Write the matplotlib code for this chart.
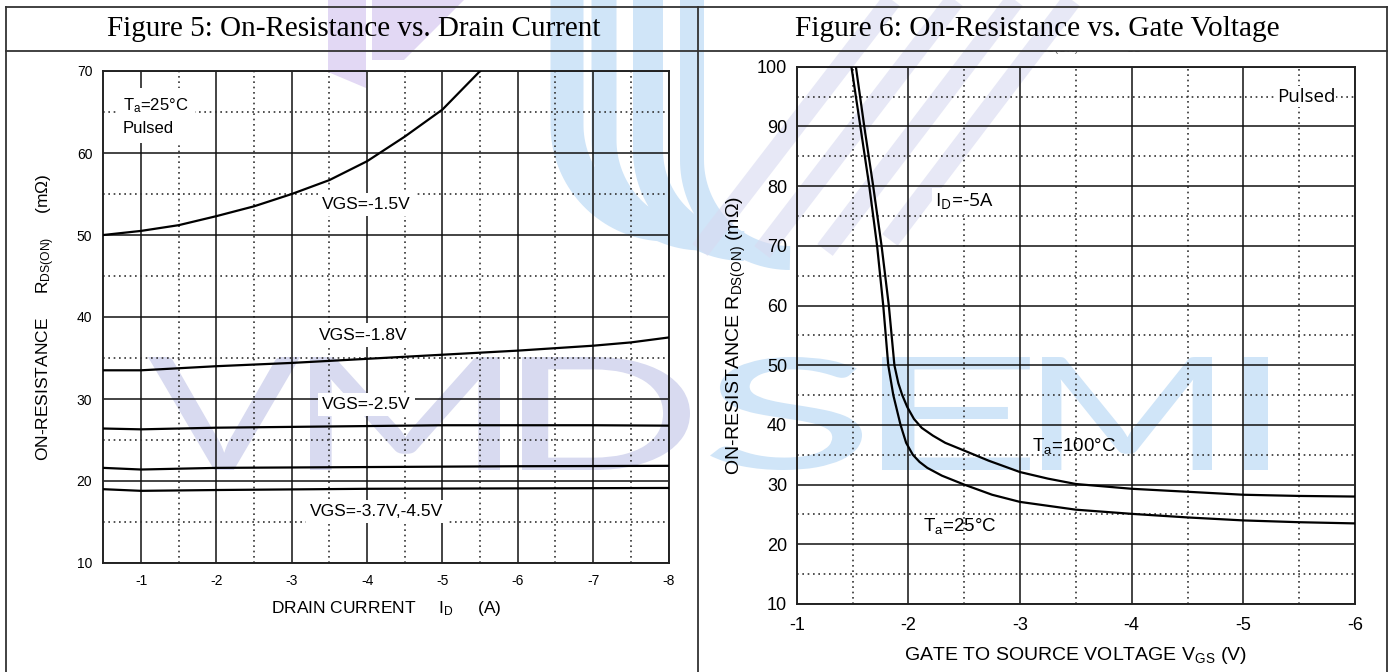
import numpy as np
import matplotlib
matplotlib.use("Agg")
import matplotlib.pyplot as plt
import matplotlib.transforms as mtransforms
from matplotlib.patches import Rectangle, PathPatch, Polygon
from matplotlib.textpath import TextPath
from matplotlib.font_manager import FontProperties

plt.rcParams['font.family'] = ['Liberation Sans', 'DejaVu Sans']
plt.rcParams['mathtext.fontset'] = 'custom'
plt.rcParams['mathtext.rm'] = 'Liberation Sans'
plt.rcParams['mathtext.it'] = 'Liberation Sans:italic'
plt.rcParams['mathtext.bf'] = 'Liberation Sans:bold'
plt.rcParams['axes.unicode_minus'] = False

# Figure 5: on-resistance vs drain current (mOhm vs A)
vgs15_id = [-0.5, -1, -1.5, -2, -2.5, -3, -3.5, -4, -4.5, -5, -5.5]
vgs15_r = [50.0, 50.5, 51.2, 52.3, 53.5, 55.0, 56.7, 59.0, 62.0, 65.3, 70.0]
vgs18_id = [-0.5, -1, -2, -3, -4, -5, -6, -7, -7.5, -8]
vgs18_r = [33.5, 33.5, 34.0, 34.4, 34.9, 35.4, 35.9, 36.5, 36.9, 37.5]
vgs25_id = [-0.5, -1, -2, -3, -4, -5, -6, -7, -8]
vgs25_r = [26.4, 26.3, 26.5, 26.6, 26.7, 26.8, 26.8, 26.8, 26.75]
vgs37_id = [-0.5, -1, -2, -4, -6, -8]
vgs37_r = [21.6, 21.4, 21.6, 21.7, 21.8, 21.85]
vgs45_id = [-0.5, -1, -2, -4, -6, -8]
vgs45_r = [19.0, 18.8, 18.9, 19.05, 19.1, 19.15]

# Figure 6: on-resistance vs gate voltage, ID = -5A
t25_vgs = [-1.49, -1.57, -1.65, -1.72, -1.775, -1.82, -1.865, -1.93, -1.98, -2.04, -2.1,
           -2.17, -2.3, -2.5, -2.75, -3.0, -3.5, -4.0, -4.5, -5.0, -5.5, -6.0]
t25_r = [100, 90, 80, 70, 60, 50, 45, 40, 37, 35, 33.8,
         32.8, 31.5, 30.0, 28.3, 27.1, 25.8, 25.1, 24.5, 24.0, 23.7, 23.5]
t100_vgs = [-1.53, -1.605, -1.685, -1.76, -1.825, -1.875, -1.91, -1.945, -1.99, -2.05, -2.12,
            -2.22, -2.33, -2.5, -2.72, -3.0, -3.25, -3.5, -4.0, -4.5, -5.0, -5.5, -6.0]
t100_r = [100, 90, 80, 70, 60, 50, 47, 45, 43, 41, 39.5,
          38.2, 37.0, 35.7, 34.0, 32.1, 31.0, 30.1, 29.3, 28.8, 28.3, 28.1, 28.0]

W, H = 1391, 672
fig = plt.figure(figsize=(W / 100, H / 100), dpi=100)

# background layer: table frame + watermark, in pixel coords
bg = fig.add_axes([0, 0, 1, 1])
bg.set_xlim(0, W)
bg.set_ylim(H, 0)
bg.axis('off')
bg.set_zorder(0)

blue = '#d0e5f8'
lav = '#d8daf0'
purple = '#e2d8f4'

# clipped caption remnant under header
bg.text(1059, 49.5, 'DS(ON)', fontsize=8, color='#666', ha='center', va='center', zorder=1)
bg.text(1134, 49.5, 'GS', fontsize=8, color='#666', ha='center', va='center', zorder=1)
bg.add_patch(Rectangle((1000, 20), 180, 31, fc='white', ec='none', zorder=1.5))

# logo remnants
for x, yt, r, w in [(567, 125, 100, 33), (604, 140, 98, 25), (648, 150, 96, 30), (692, 160, 98, 24)]:
    t = np.linspace(np.pi, np.pi / 2, 40)
    xs = np.concatenate([[x, x], x + r + r * np.cos(t)])
    ys = np.concatenate([[-10, yt], yt + r * np.sin(t)])
    bg.plot(xs, ys, color=blue, lw=w * 0.72, solid_capstyle='butt', zorder=2)
for x0, y0, x1, y1 in [(700, 250, 892, 0), (762, 252, 955, 0), (825, 250, 1015, 0), (890, 240, 1072, 0)]:
    bg.plot([x0, x1], [y0, y1], color=lav, lw=14, solid_capstyle='butt', zorder=2, alpha=0.6)
bg.add_patch(Polygon([(328, 0), (366, 0), (366, 88), (328, 72)], fc=purple, ec='none', zorder=2))
bg.add_patch(Polygon([(372, 0), (464, 0), (404, 60), (372, 60)], fc=purple, ec='none', zorder=2))

# watermark letters
wm_font = FontProperties(family=['Lato', 'DejaVu Sans'], weight='normal')
for ch, x0, x1, col in [('V', 148, 300, lav), ('M', 310, 500, lav), ('D', 522, 690, lav),
                        ('S', 710, 862, blue), ('E', 882, 1030, blue), ('M', 1042, 1212, blue),
                        ('I', 1244, 1268, blue)]:
    tp = TextPath((0, 0), ch, size=100, prop=wm_font)
    ext = tp.get_extents()
    y0, y1 = 357, 470
    tr = (mtransforms.Affine2D().translate(-ext.x0, -ext.y1)
          .scale((x1 - x0) / ext.width, -(y1 - y0) / ext.height).translate(x0, y0))
    bg.add_patch(PathPatch(tr.transform_path(tp), fc=col, ec='none', zorder=2))

# table frame
fc = '#333333'
bg.plot([6, 1387], [7, 7], color=fc, lw=1.3, zorder=4)
bg.plot([6, 1387], [51, 51], color=fc, lw=1.3, zorder=4)
for x in [6, 698, 1387]:
    bg.plot([x, x], [7, H + 5], color=fc, lw=1.3, zorder=4)

fig.text(354 / W, 1 - 29 / H, 'Figure 5: On-Resistance vs. Drain Current', family='Liberation Serif',
         fontsize=21, ha='center', va='center')
fig.text(1037 / W, 1 - 29 / H, 'Figure 6: On-Resistance vs. Gate Voltage', family='Liberation Serif',
         fontsize=21.2, ha='center', va='center')


def style(ax, xmaj, xmin, ymaj, ymin, size):
    ax.set_facecolor('none')
    ax.set_xticks(xmaj)
    ax.set_xticks(xmin, minor=True)
    ax.set_yticks(ymaj)
    ax.set_yticks(ymin, minor=True)
    ax.grid(which='major', color='#111111', lw=1.1, ls='-')
    ax.grid(which='minor', color='#333333', lw=1.2, ls=(0, (1, 2.2)))
    ax.tick_params(which='both', length=0, labelsize=size)
    for s in ax.spines.values():
        s.set_linewidth(1.4)
        s.set_color('#222222')


# ---- Figure 5 ----
ax1 = fig.add_axes([103.4 / W, 1 - 563 / H, 565.1 / W, 492 / H])
ax1.set_zorder(1)
style(ax1, range(-1, -9, -1), np.arange(-1.5, -8, -1), range(10, 71, 10), range(15, 70, 10), 10)
ax1.tick_params(axis='x', pad=8)
ax1.tick_params(axis='y', pad=8)
ax1.set_xlim(-0.5, -8)
ax1.set_ylim(10, 70)
for xs, ys in [(vgs15_id, vgs15_r), (vgs18_id, vgs18_r), (vgs25_id, vgs25_r),
               (vgs37_id, vgs37_r), (vgs45_id, vgs45_r)]:
    ax1.plot(xs, ys, color='black', lw=1.6, zorder=3)
box = dict(fc='white', ec='none', pad=3)
ax1.text(-3.99, 53.7, 'VGS=-1.5V', fontsize=12.5, ha='center', va='center', bbox=box, zorder=4)
ax1.text(-3.95, 37.8, 'VGS=-1.8V', fontsize=12.5, ha='center', va='center', bbox=box, zorder=4)
ax1.text(-3.99, 29.3, 'VGS=-2.5V', fontsize=12.5, ha='center', va='center', bbox=box, zorder=4)
ax1.text(-4.13, 16.3, 'VGS=-3.7V,-4.5V', fontsize=12.5, ha='center', va='center', bbox=box, zorder=4)
ax1.text(-0.76, 64.5, 'T$_\\mathregular{a}$=25°C\nPulsed', fontsize=12, ha='left', va='center',
         linespacing=1.5, bbox=dict(fc='white', ec='none', pad=5), zorder=4)
ax1.set_xlabel('DRAIN CURRENT     I$_\\mathregular{D}$     (A)', fontsize=12.5, labelpad=8)
ax1.set_ylabel('ON-RESISTANCE     R$_\\mathregular{DS(ON)}$     (m\u03a9)', fontsize=12.5, labelpad=14)

# ---- Figure 6 ----
ax2 = fig.add_axes([796.7 / W, 1 - 604 / H, 558.3 / W, 537.3 / H])
ax2.set_zorder(1)
style(ax2, range(-1, -7, -1), np.arange(-1.5, -6, -1), range(10, 101, 10), range(15, 100, 10), 13)
ax2.tick_params(axis='x', pad=9)
ax2.tick_params(axis='y', pad=7)
ax2.set_xlim(-1, -6)
ax2.set_ylim(10, 100)
ax2.plot(t25_vgs, t25_r, color='black', lw=1.6, zorder=3)
ax2.plot(t100_vgs, t100_r, color='black', lw=1.6, zorder=3)
ax2.text(-2.24, 77.5, 'I$_\\mathregular{D}$=-5A', family=['Open Sans', 'DejaVu Sans'], fontsize=14,
         ha='left', va='center', bbox=dict(fc='white', ec='none', pad=2), zorder=4)
ax2.text(-3.11, 36.5, 'T$_\\mathregular{a}$=100°C', fontsize=13.5, ha='left', va='center', zorder=4)
ax2.text(-2.13, 23.0, 'T$_\\mathregular{a}$=25°C', fontsize=13.5, ha='left', va='center', zorder=4)
ax2.text(-5.56, 95, 'Pulsed', family=['Open Sans', 'DejaVu Sans'], fontsize=13.5, ha='center', va='center',
         bbox=dict(fc='white', ec='none', pad=1), zorder=4)
ax2.set_xlabel('GATE TO SOURCE VOLTAGE V$_\\mathregular{GS}$ (V)', fontsize=14, labelpad=8)
ax2.set_ylabel('ON-RESISTANCE R$_\\mathregular{DS(ON)}$ (m\u03a9)', fontsize=14, labelpad=6)

fig.savefig('out.png', dpi=100)
